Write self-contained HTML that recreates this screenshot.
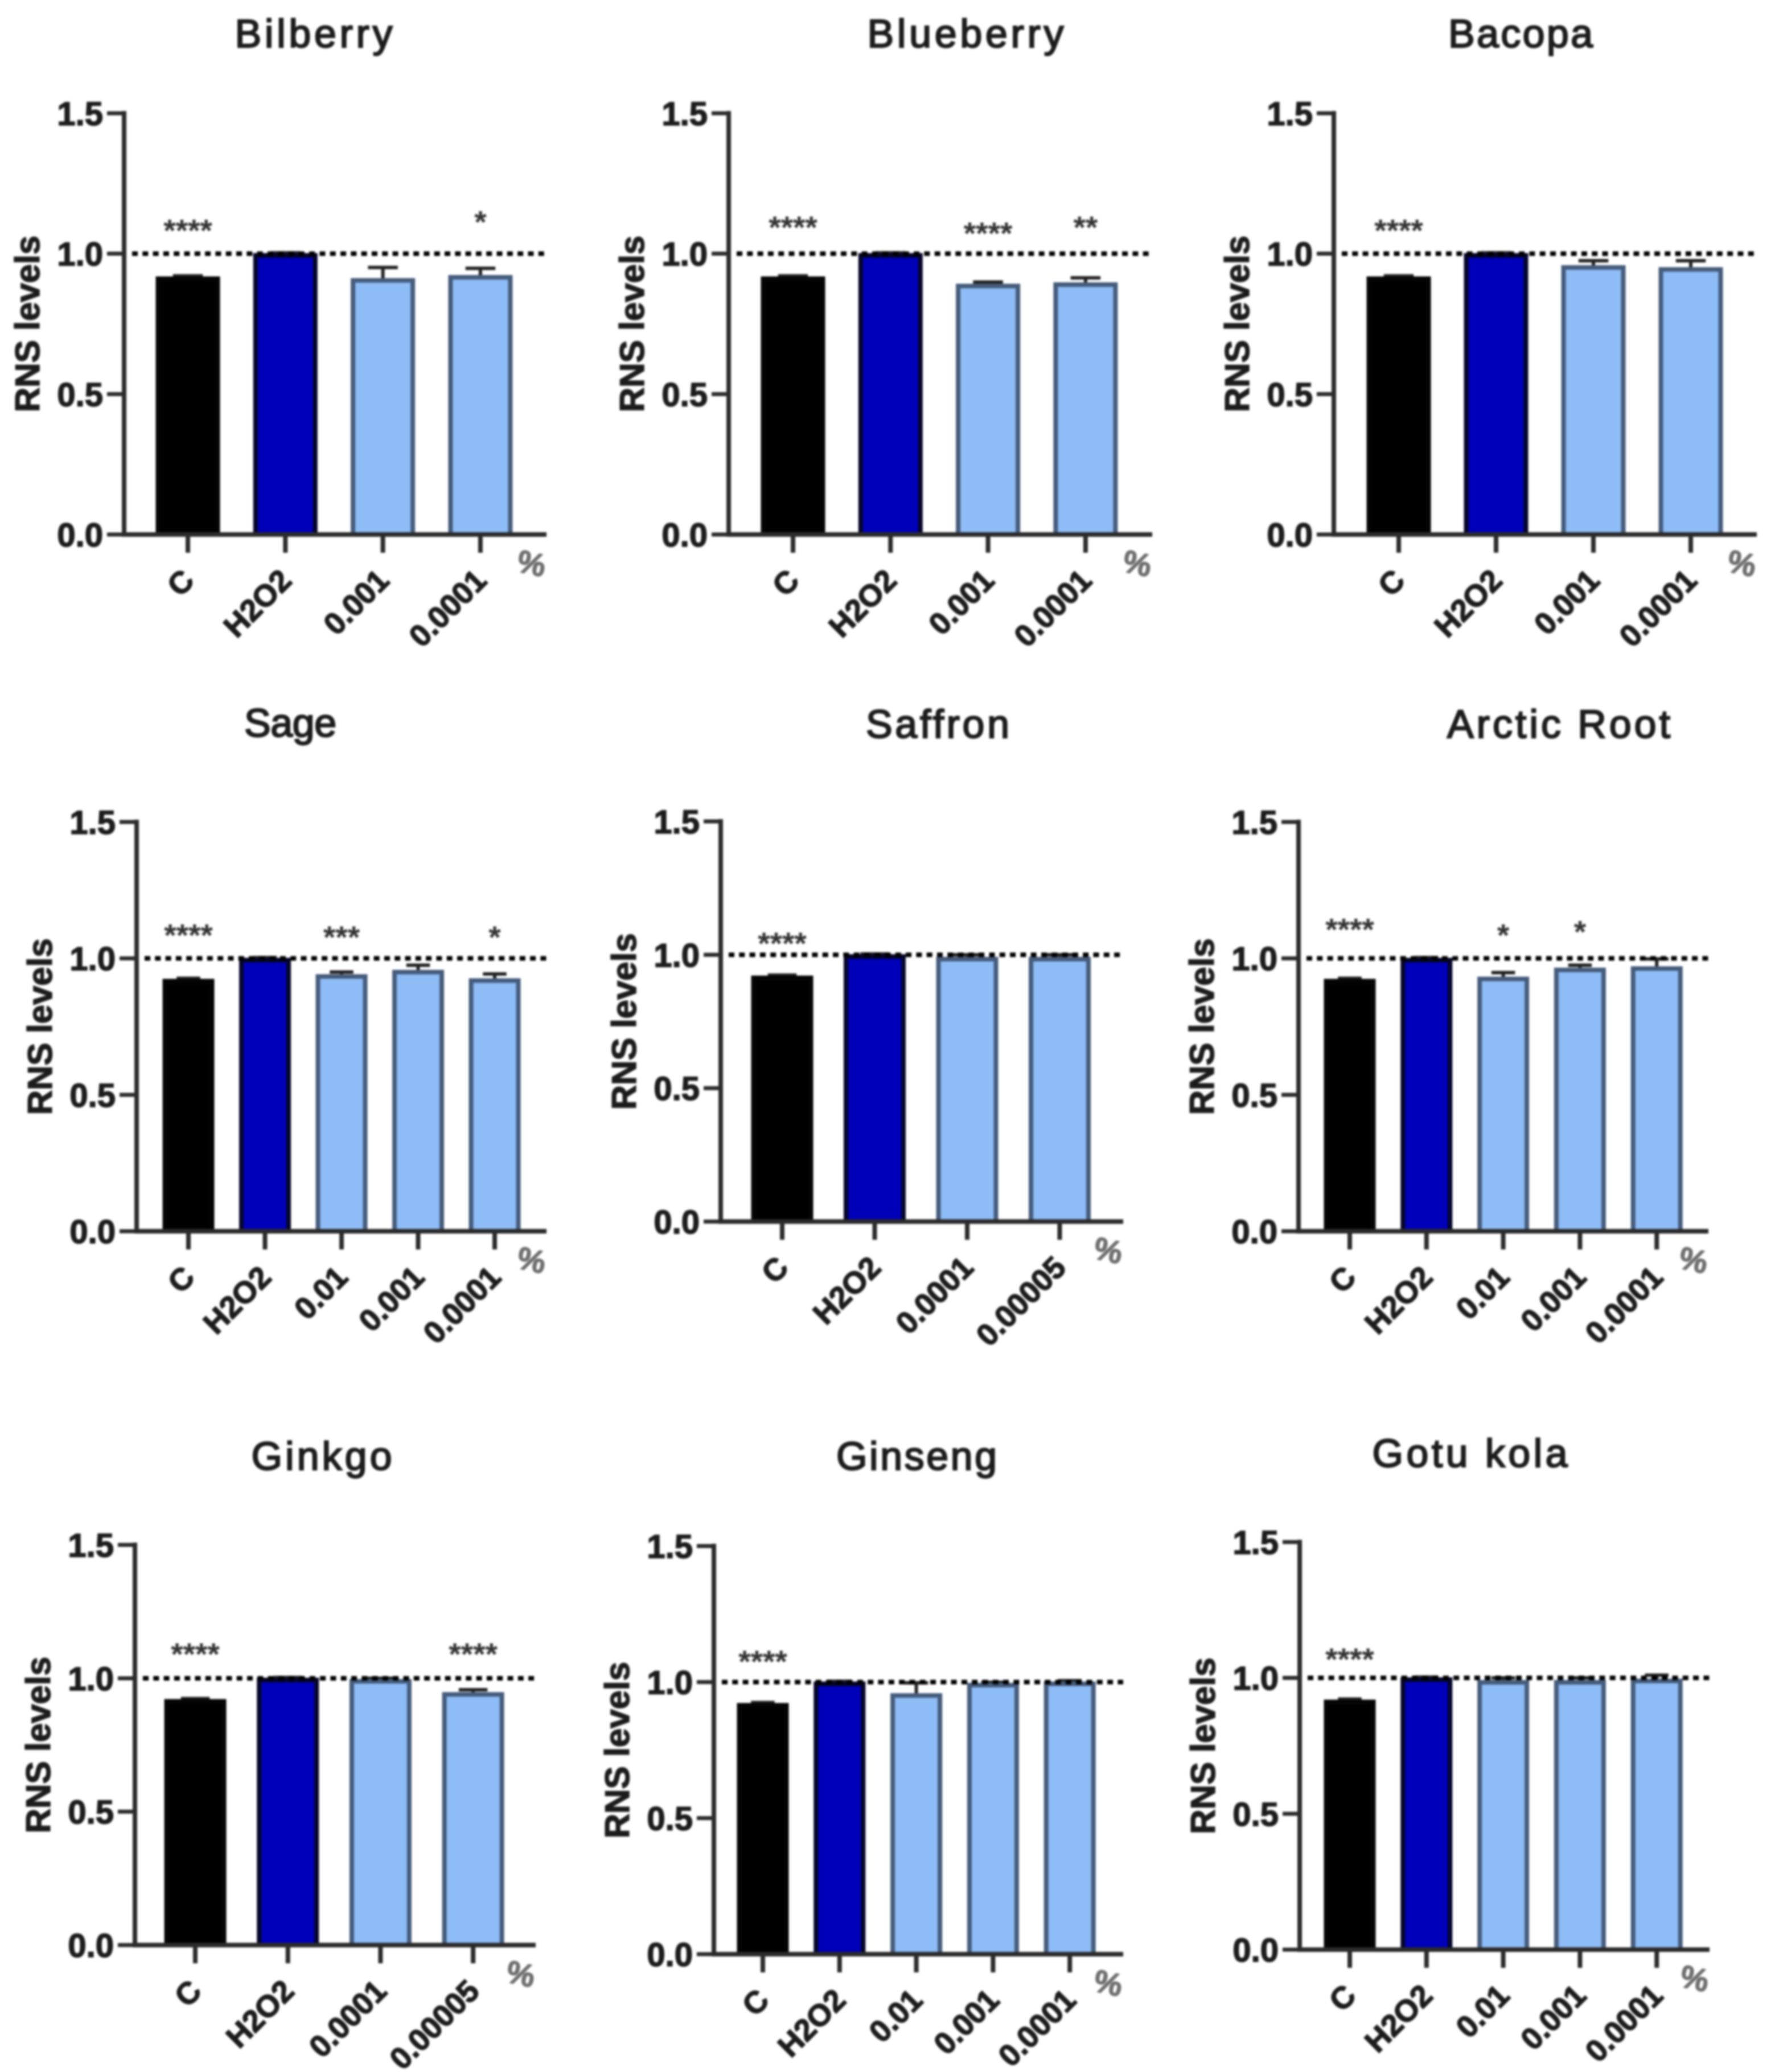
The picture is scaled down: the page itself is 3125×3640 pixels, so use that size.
<!DOCTYPE html>
<html lang="en">
<head>
<meta charset="utf-8">
<title>RNS levels by plant extract</title>
<style>
html,body{margin:0;padding:0;background:#fff;width:3125px;height:3640px;overflow:hidden}
#figure{display:block;filter:blur(1.8px)}
text{font-family:"Liberation Sans",Arial,sans-serif}
</style>
</head>
<body>
<svg id="figure" xmlns="http://www.w3.org/2000/svg" width="3125" height="3640" viewBox="0 0 3125 3640"></svg>
<script>
// ---- chart data ----
const panelTitles = ["Bilberry","Blueberry","Bacopa","Sage","Saffron","Arctic Root","Ginkgo","Ginseng","Gotu kola"];
const barCategories = [
  ["C","H2O2","0.001","0.0001"],
  ["C","H2O2","0.001","0.0001"],
  ["C","H2O2","0.001","0.0001"],
  ["C","H2O2","0.01","0.001","0.0001"],
  ["C","H2O2","0.0001","0.00005"],
  ["C","H2O2","0.01","0.001","0.0001"],
  ["C","H2O2","0.0001","0.00005"],
  ["C","H2O2","0.01","0.001","0.0001"],
  ["C","H2O2","0.01","0.001","0.0001"]
];
const barValues = [
  [0.917,1.0,0.911,0.922],
  [0.917,1.0,0.891,0.896],
  [0.917,1.0,0.957,0.95],
  [0.923,1.0,0.94,0.956,0.925],
  [0.92,1.0,0.99,0.99],
  [0.923,1.0,0.931,0.964,0.969],
  [0.92,1.0,0.995,0.946],
  [0.921,1.0,0.957,0.995,1.0],
  [0.918,1.0,0.99,0.99,0.995]
];
const errorValues = [
  [0.004,0.003,0.04,0.026],
  [0.004,0.003,0.008,0.018],
  [0.004,0.003,0.018,0.025],
  [0.004,0.003,0.01,0.019,0.018],
  [0.004,0.003,0.01,0.01],
  [0.004,0.003,0.017,0.011,0.029],
  [0.004,0.003,0.005,0.011],
  [0.004,0.003,0.04,0.004,0.005],
  [0.004,0.003,0.01,0.01,0.015]
];
const starLabels = [
  ["****","","","*"],
  ["****","","****","**"],
  ["****","","",""],
  ["****","","***","","*"],
  ["****","","",""],
  ["****","","*","*",""],
  ["****","","","****"],
  ["****","","","",""],
  ["****","","","",""]
];
const starLevels = [
  [1.098,0,0,1.128],
  [1.109,0,1.087,1.109],
  [1.098,0,0,0],
  [1.10,0,1.093,0,1.093],
  [1.058,0,0,0],
  [1.121,0,1.10,1.113,0],
  [1.106,0,0,1.106],
  [1.091,0,0,0,0],
  [1.084,0,0,0,0]
];
const yTickValues = [0,0.5,1.0,1.5];
const yTickLabels = ["0.0","0.5","1.0","1.5"];
const referenceLevel = 1.0;
const yAxisMax = 1.5;
const yAxisTitle = "RNS levels";
const unitLabel = "%";

// ---- layout (pixel geometry, separate from data) ----
const panelFrames = [
  {axisX:218, yTop:199, yZero:939, xEnd:960, first:330, step:171.3, barW:105, titleX:551, titleY:83, titleW:277},
  {axisX:1280, yTop:199, yZero:939, xEnd:2024, first:1393, step:171.3, barW:105, titleX:1696, titleY:83, titleW:345},
  {axisX:2343, yTop:199, yZero:939, xEnd:3086, first:2457, step:171, barW:105, titleX:2671, titleY:83, titleW:254},
  {axisX:240, yTop:1444, yZero:2163, xEnd:960, first:331, step:134.5, barW:83, titleX:510, titleY:1294, titleW:162},
  {axisX:1266, yTop:1443, yZero:2146, xEnd:1973, first:1374, step:162.5, barW:101, titleX:1647, titleY:1296, titleW:252},
  {axisX:2281, yTop:1444, yZero:2163, xEnd:3001, first:2371, step:134.8, barW:83, titleX:2738, titleY:1296, titleW:392},
  {axisX:237, yTop:2714, yZero:3417, xEnd:941, first:343, step:162.7, barW:101, titleX:565, titleY:2582, titleW:247},
  {axisX:1254, yTop:2716, yZero:3433, xEnd:1973, first:1340, step:134.8, barW:83, titleX:1610, titleY:2582, titleW:282},
  {axisX:2283, yTop:2709, yZero:3425, xEnd:3003, first:2371, step:134.8, barW:83, titleX:2582, titleY:2577, titleW:343}
];
const barFills = ["#000000","#0000b8","#8ebcf6"];
const barStrokes = ["#050505","#05052a","#465c7c"];

// ---- drawing ----
const NS = "http://www.w3.org/2000/svg";
const root = document.getElementById("figure");
function make(tag, parent, attrs, content) {
  const node = document.createElementNS(NS, tag);
  for (const key in attrs) node.setAttribute(key, attrs[key]);
  if (content !== undefined) node.textContent = content;
  parent.appendChild(node);
  return node;
}
panelTitles.forEach(function (title, p) {
  const f = panelFrames[p];
  const yScale = function (v) { return f.yZero - v * (f.yZero - f.yTop) / yAxisMax; };
  const xScale = function (i) { return f.first + i * f.step; };

  const panel = make("g", root, {});
  
  

  const heading = make("text", panel, {x:f.titleX, y:f.titleY, "text-anchor":"middle", "font-size":70, fill:"#1c1c1c", stroke:"#1c1c1c", "stroke-width":2.4, textLength:f.titleW, lengthAdjust:"spacing"}, title);
  
  

  const yTitleX = f.axisX - 149;
  const yTitleY = (f.yTop + f.yZero) / 2;
  const yTitle = make("text", panel, {x:yTitleX, y:yTitleY, "text-anchor":"middle", "font-size":60, "font-weight":"bold", fill:"#1c1c1c", stroke:"#1c1c1c", "stroke-width":1.6, transform:"rotate(-90 " + yTitleX + " " + yTitleY + ")"}, yAxisTitle);
  
  

  // error bars sit behind the bars
  barValues[p].forEach(function (v, i) {
    const top = yScale(v + errorValues[p][i]);
    const cx = xScale(i);
    const stem = make("line", panel, {x1:cx, x2:cx, y1:yScale(v), y2:top, stroke:"#222", "stroke-width":6});
    
    
    const cap = make("line", panel, {x1:cx - f.barW / 4, x2:cx + f.barW / 4, y1:top, y2:top, stroke:"#222", "stroke-width":6});
    
    
  });

  // bars
  barValues[p].forEach(function (v, i) {
    const style = Math.min(i, 2);
    const top = yScale(v) + 3;
    const bar = make("rect", panel, {x:xScale(i) - f.barW / 2, y:top, width:f.barW, height:f.yZero - top, fill:barFills[style], stroke:barStrokes[style], "stroke-width":8});
    
    
  });

  // reference line
  const refY = yScale(referenceLevel);
  const ref = make("line", panel, {x1:f.axisX + 14, x2:f.xEnd, y1:refY, y2:refY, stroke:"#000", "stroke-width":8, "stroke-dasharray":"10 8.3"});
  
  

  // axes
  const yAxis = make("line", panel, {x1:f.axisX, x2:f.axisX, y1:f.yTop - 4, y2:f.yZero + 4, stroke:"#2b2b2b", "stroke-width":8});
  
  
  const xAxis = make("line", panel, {x1:f.axisX, x2:f.xEnd, y1:f.yZero, y2:f.yZero, stroke:"#2b2b2b", "stroke-width":8});
  
  

  yTickValues.forEach(function (v, i) {
    const ty = yScale(v);
    const tick = make("line", panel, {x1:f.axisX - 30, x2:f.axisX, y1:ty, y2:ty, stroke:"#2b2b2b", "stroke-width":7});
    
    
    const label = make("text", panel, {x:f.axisX - 37, y:ty + 21, "text-anchor":"end", "font-size":58, "font-weight":"bold", fill:"#1c1c1c", stroke:"#1c1c1c", "stroke-width":1.6}, yTickLabels[i]);
    
    
  });

  barCategories[p].forEach(function (name, i) {
    const cx = xScale(i);
    const tick = make("line", panel, {x1:cx, x2:cx, y1:f.yZero, y2:f.yZero + 32, stroke:"#2b2b2b", "stroke-width":8});
    
    
    const ax = cx + 14;
    const ay = f.yZero + 84;
    const label = make("text", panel, {x:ax, y:ay, "text-anchor":"end", "font-size":54, "font-weight":"bold", fill:"#1c1c1c", stroke:"#1c1c1c", "stroke-width":1.6, transform:"rotate(-45 " + ax + " " + ay + ")"}, name);
    
    
  });

  // significance marks
  starLabels[p].forEach(function (mark, i) {
    if (!mark) return;
    const stars = make("text", panel, {x:xScale(i), y:yScale(starLevels[p][i]) + 26, "text-anchor":"middle", "font-size":55, "font-weight":"bold", fill:"#333"}, mark);
    
    
  });

  const ux = f.xEnd - 26;
  const uy = f.yZero + 50;
  const unit = make("text", panel, {x:ux, y:uy + 20, "text-anchor":"middle", "font-size":56, "font-weight":"bold", fill:"#6f6f6f", stroke:"#6f6f6f", "stroke-width":1.5, transform:"rotate(12 " + ux + " " + uy + ")"}, unitLabel);
  
  
});
</script>
</body>
</html>
